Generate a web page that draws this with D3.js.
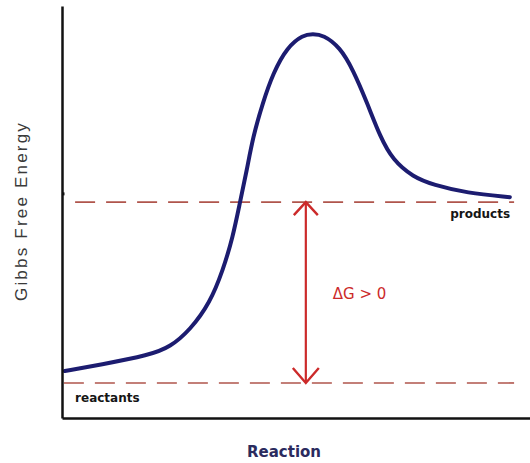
<!DOCTYPE html>
<html>
<head>
<meta charset="utf-8">
<script src="https://cdn.jsdelivr.net/npm/d3@7"></script>
<style>
  body { margin: 0; background: #fff; }
  svg { display: block; }
</style>
</head>
<body>
<div id="chart"></div>
<script>
// reaction coordinate (0-100) and free energy (0-100)
var reactionX = [0.6, 8.1, 18.8, 23.1, 27.4, 31.6, 34.4, 36.5, 38.0, 39.5, 40.8, 42.9, 45.1, 48.1,
                 51.5, 53.6, 55.8, 59.4, 62.2, 65.2, 68.0, 70.7, 75.0, 79.3, 86.5, 95.7];
var energyY = [11.4, 12.9, 15.3, 17.2, 21.4, 27.9, 35.9, 43.9, 52.2, 60.2, 68.2, 76.5, 83.7, 90.0,
               93.0, 93.2, 93.0, 90.0, 84.5, 76.5, 68.2, 62.6, 58.5, 56.6, 54.6, 53.6];

var levelNames = ["reactants", "products"];
var levelValues = [8.5, 52.4];
var levelStart = [0.4, 2.8];
var levelEnd = [96.6, 96.6];

var deltaX = 52.1;
var deltaLabel = "\u0394G > 0";
var xTitle = "Reaction";
var yTitle = "Gibbs Free Energy";

var w = 530, h = 463;

var svg = d3.select("#chart").append("svg")
    .attr("width", w)
    .attr("height", h);

var x = d3.scaleLinear().domain([0, 100]).range([62, 530]);
var y = d3.scaleLinear().domain([0, 100]).range([418, 6]);

// dashed energy levels
svg.selectAll("line.level")
    .data(levelValues)
    .enter()
    .append("line")
    .attr("class", "level")
    .attr("x1", function (d, i) { return x(levelStart[i]); })
    .attr("x2", function (d, i) { return x(levelEnd[i]); })
    .attr("y1", function (d) { return y(d); })
    .attr("y2", function (d) { return y(d); })
    .style("stroke", "#b0554c")
    .style("stroke-width", 1.6)
    .style("stroke-dasharray", "20,11");

// the energy curve
var pts = reactionX.map(function (d, i) { return [d, energyY[i]]; });
var line = d3.line()
    .x(function (d) { return x(d[0]); })
    .y(function (d) { return y(d[1]); })
    .curve(d3.curveBasis);

svg.append("path")
    .datum(pts)
    .attr("d", line)
    .style("fill", "none")
    .style("stroke", "#1c1c70")
    .style("stroke-width", 4)
    .style("stroke-linecap", "round");

// axes, no ticks
svg.append("g")
    .attr("transform", "translate(" + x(0) + ",0)")
    .call(d3.axisLeft(y).tickValues([]).tickSizeOuter(0))
    .select(".domain")
    .style("stroke", "#111")
    .style("stroke-width", 2.5);

svg.append("g")
    .attr("transform", "translate(0," + y(0) + ")")
    .call(d3.axisBottom(x).tickValues([]).tickSizeOuter(0))
    .select(".domain")
    .style("stroke", "#111")
    .style("stroke-width", 2.5);

// little nub on the y axis
svg.append("rect")
    .attr("x", x(0))
    .attr("y", y(54.4) - 1.5)
    .attr("width", 2.5)
    .attr("height", 3)
    .style("fill", "#111");

// delta G double arrow
var ax = x(deltaX);
var yTop = y(levelValues[1]), yBot = y(levelValues[0]);
var red = "#cc2a2a";

svg.append("line")
    .attr("x1", ax).attr("x2", ax)
    .attr("y1", yTop).attr("y2", yBot)
    .style("stroke", red)
    .style("stroke-width", 2.2);

svg.append("path")
    .attr("d", "M" + (ax - 12) + "," + (yTop + 13) + "L" + ax + "," + yTop + "L" + (ax + 12) + "," + (yTop + 13))
    .style("fill", "none")
    .style("stroke", red)
    .style("stroke-width", 2.4);

svg.append("path")
    .attr("d", "M" + (ax - 13) + "," + (yBot - 15) + "L" + ax + "," + yBot + "L" + (ax + 13) + "," + (yBot - 15))
    .style("fill", "none")
    .style("stroke", red)
    .style("stroke-width", 2.4);

svg.append("text")
    .attr("x", ax + 27)
    .attr("y", (yTop + yBot) / 2 + 6)
    .style("font-family", "'DejaVu Sans', sans-serif")
    .style("font-size", "15px")
    .style("fill", red)
    .text(deltaLabel);

// level labels
svg.append("text")
    .attr("x", x(levelEnd[1]) - 4)
    .attr("y", y(levelValues[1]) + 16)
    .attr("text-anchor", "end")
    .style("font-family", "'DejaVu Sans', sans-serif")
    .style("font-weight", "bold")
    .style("font-size", "12px")
    .style("fill", "#151515")
    .text(levelNames[1]);

svg.append("text")
    .attr("x", x(2.8))
    .attr("y", y(levelValues[0]) + 19)
    .style("font-family", "'DejaVu Sans', sans-serif")
    .style("font-weight", "bold")
    .style("font-size", "12px")
    .style("fill", "#151515")
    .text(levelNames[0]);

// axis titles
svg.append("text")
    .attr("x", 284)
    .attr("y", 457)
    .attr("text-anchor", "middle")
    .style("font-family", "'DejaVu Sans', sans-serif")
    .style("font-weight", "bold")
    .style("font-size", "15px")
    .style("fill", "#2b2b5e")
    .text(xTitle);

svg.append("text")
    .attr("transform", "translate(27,211) rotate(-90)")
    .attr("text-anchor", "middle")
    .style("font-family", "'Liberation Sans', Arial, sans-serif")
    .style("font-size", "17px")
    .style("letter-spacing", "2.2px")
    .style("fill", "#3a3a3a")
    .text(yTitle);
</script>
</body>
</html>
